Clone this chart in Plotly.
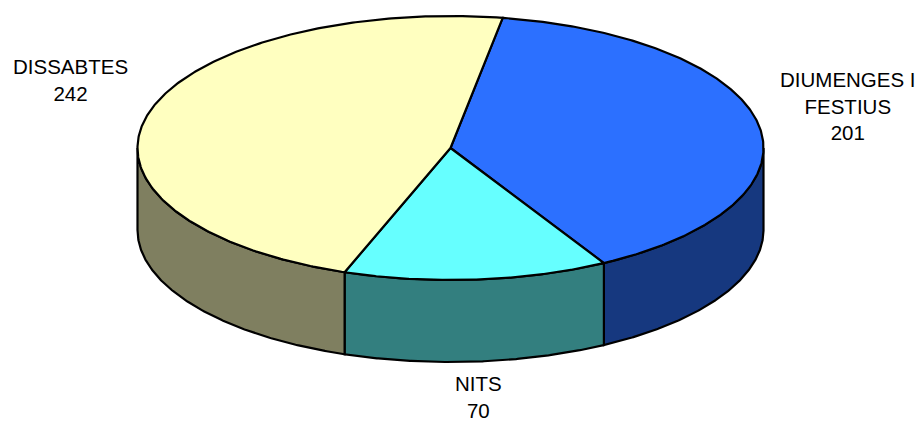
import numpy as np
import plotly.graph_objects as go

# ---- data ----
categories = ["DIUMENGES I FESTIUS", "NITS", "DISSABTES"]
display_names = ["DIUMENGES I<br>FESTIUS", "NITS", "DISSABTES"]
values = [201, 70, 242]

# ---- style / geometry ----
top_colors = ["#2C70FF", "#66FFFF", "#FFFFC0"]
side_colors = ["#16387F", "#337F7F", "#7F7F60"]
cx, cy, rx, ry, depth = 450.5, 148.0, 313.0, 132.0, 82.0
start_deg = 80.4  # angle (ccw from east) where first slice starts, slices go clockwise
label_pos = [(848, 105.5), (478.5, 397), (70, 79.5)]

total = float(sum(values))
spans = [v / total * 360.0 for v in values]

def pt(theta_deg, dy=0.0):
    t = np.radians(theta_deg)
    return cx + rx * np.cos(t), cy - ry * np.sin(t) + dy

fig = go.Figure()

ranges = []
a = start_deg
for s in spans:
    ranges.append((a, a - s))
    a -= s

# side walls (visible front half)
for (a0, a1), col in zip(ranges, side_colors):
    for shift in (0, -360, 360):
        h, l = a0 + shift, a1 + shift
        h2, l2 = min(h, 0.0), max(l, -180.0)
        if h2 > l2:
            th = np.linspace(h2, l2, 200)
            xs_t, ys_t = pt(th)
            xs_b, ys_b = pt(th[::-1], depth)
            xs = np.concatenate([xs_t, xs_b, xs_t[:1]])
            ys = np.concatenate([ys_t, ys_b, ys_t[:1]])
            fig.add_trace(go.Scatter(x=xs, y=ys, mode="lines", fill="toself",
                                     fillcolor=col, line=dict(color="black", width=2.2),
                                     hoverinfo="skip", showlegend=False))

# top faces
for (a0, a1), col, name in zip(ranges, top_colors, categories):
    th = np.linspace(a0, a1, 300)
    xs, ys = pt(th)
    xs = np.concatenate([[cx], xs, [cx]])
    ys = np.concatenate([[cy], ys, [cy]])
    fig.add_trace(go.Scatter(x=xs, y=ys, mode="lines", fill="toself",
                             fillcolor=col, line=dict(color="black", width=2.2),
                             name=name, hoverinfo="name", showlegend=False))

annotations = []
for nm, v, (lx, ly) in zip(display_names, values, label_pos):
    annotations.append(dict(x=lx, y=ly, xref="x", yref="y", text=f"{nm}<br>{v}",
                            showarrow=False, xanchor="center", yanchor="middle",
                            font=dict(family="Liberation Sans, Arial", size=20.5, color="black")))

fig.update_layout(
    width=920, height=421,
    margin=dict(l=0, r=0, t=0, b=0),
    paper_bgcolor="white", plot_bgcolor="white",
    xaxis=dict(range=[0, 920], visible=False, fixedrange=True),
    yaxis=dict(range=[421, 0], visible=False, fixedrange=True),
    annotations=annotations,
)
fig.write_html("out.html", config={"displayModeBar": False},
               post_script="document.body.style.margin='0';document.body.style.overflow='hidden';")
